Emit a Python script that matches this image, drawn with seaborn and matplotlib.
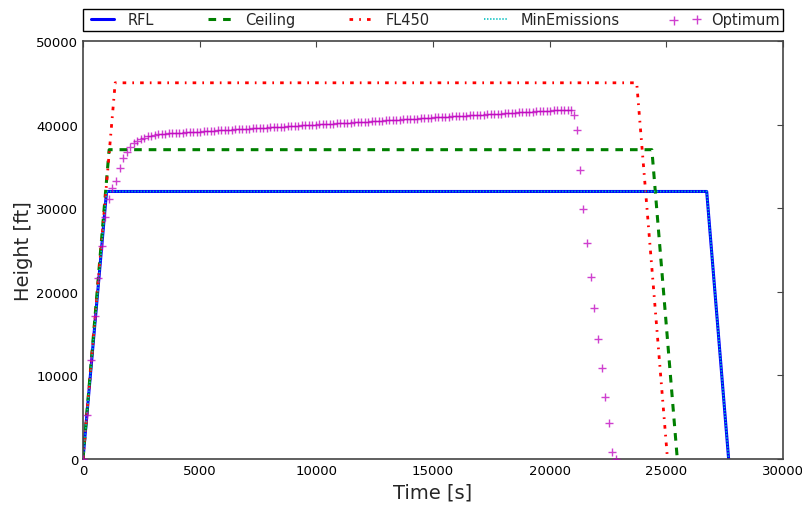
import matplotlib
matplotlib.use("Agg")
import matplotlib.pyplot as plt
import seaborn as sns
import pandas as pd

# ---------------- data ----------------
rfl_time = [0, 1010, 26730, 27670]
rfl_height = [0, 32000, 32000, 0]

ceiling_time = [0, 1120, 24380, 25470]
ceiling_height = [0, 37000, 37000, 0]

fl450_time = [0, 1380, 23730, 25050]
fl450_height = [0, 45000, 45000, 0]

minem_time = [0, 1010, 26730, 27670]
minem_height = [0, 32000, 32000, 0]

opt_time = [
    0, 180, 360, 510, 660, 800, 950, 1120, 1260, 1410, 1580, 1730, 1880, 2030,
    2180, 2330, 2480, 2630, 2780, 2930, 3080, 3230, 3380, 3530,
    3680, 3830, 3980, 4130, 4280, 4430, 4580, 4730, 4880, 5030,
    5180, 5330, 5480, 5630, 5780, 5930, 6080, 6230, 6380, 6530,
    6680, 6830, 6980, 7130, 7280, 7430, 7580, 7730, 7880, 8030,
    8180, 8330, 8480, 8630, 8780, 8930, 9080, 9230, 9380, 9530,
    9680, 9830, 9980, 10130, 10280, 10430, 10580, 10730, 10880, 11030,
    11180, 11330, 11480, 11630, 11780, 11930, 12080, 12230, 12380, 12530,
    12680, 12830, 12980, 13130, 13280, 13430, 13580, 13730, 13880, 14030,
    14180, 14330, 14480, 14630, 14780, 14930, 15080, 15230, 15380, 15530,
    15680, 15830, 15980, 16130, 16280, 16430, 16580, 16730, 16880, 17030,
    17180, 17330, 17480, 17630, 17780, 17930, 18080, 18230, 18380, 18530,
    18680, 18830, 18980, 19130, 19280, 19430, 19580, 19730, 19880, 20030,
    20180, 20330, 20480, 20630, 20780, 20900,
    21030, 21170, 21310, 21450, 21610, 21770, 21920, 22080, 22230, 22380,
    22540, 22690, 22850,
]
opt_height = [
    0, 5260, 11900, 17100, 21600, 25500, 28900, 31100, 32400, 33300, 34800,
    36000, 36700, 37300, 37750, 38050, 38300, 38450, 38580, 38680, 38760,
    38820, 38880, 38930,
    38950, 38970, 39000, 39020, 39050, 39070, 39100, 39120, 39150, 39170,
    39200, 39220, 39250, 39270, 39300, 39320, 39350, 39370, 39400, 39420,
    39450, 39470, 39500, 39520, 39550, 39570, 39600, 39620, 39650, 39670,
    39700, 39720, 39750, 39770, 39800, 39820, 39850, 39870, 39900, 39920,
    39950, 39970, 40000, 40020, 40050, 40070, 40100, 40120, 40150, 40170,
    40200, 40220, 40250, 40270, 40300, 40320, 40350, 40370, 40400, 40420,
    40450, 40470, 40500, 40520, 40550, 40570, 40600, 40620, 40650, 40670,
    40700, 40720, 40750, 40770, 40800, 40820, 40850, 40870, 40900, 40920,
    40950, 40970, 41000, 41020, 41050, 41070, 41100, 41120, 41150, 41170,
    41200, 41220, 41250, 41270, 41300, 41320, 41350, 41370, 41400, 41420,
    41450, 41470, 41500, 41520, 41550, 41570, 41600, 41620, 41650, 41670,
    41700, 41720, 41750, 41770, 41800, 41780,
    41180, 39400, 34600, 29950, 25800, 21750, 18030, 14350, 10850, 7380,
    4270, 870, 0,
]

x_ticks = [0, 5000, 10000, 15000, 20000, 25000, 30000]
y_ticks = [0, 10000, 20000, 30000, 40000, 50000]

# ---------------- style ----------------
sns.set_style("white")
plt.rcParams.update({
    "font.family": ["DejaVu Sans"],
    "xtick.direction": "in",
    "ytick.direction": "in",
    "xtick.top": True,
    "ytick.right": True,
    "xtick.major.size": 4,
    "ytick.major.size": 4,
    "xtick.color": "#444444",
    "ytick.color": "#444444",
    "xtick.labelcolor": "black",
    "ytick.labelcolor": "black",
    "lines.scale_dashes": False,
})

fig = plt.figure(figsize=(8.03, 5.06), dpi=100)
ax = fig.add_axes([0.10336, 0.09091, 0.87173, 0.82609])

df_rfl = pd.DataFrame({"t": rfl_time, "h": rfl_height})
df_ceil = pd.DataFrame({"t": ceiling_time, "h": ceiling_height})
df_fl = pd.DataFrame({"t": fl450_time, "h": fl450_height})
df_me = pd.DataFrame({"t": minem_time, "h": minem_height})
df_opt = pd.DataFrame({"t": opt_time, "h": opt_height})

sns.lineplot(data=df_rfl, x="t", y="h", ax=ax, sort=False, estimator=None,
             color="#0000ff", linewidth=2.2, label="RFL")
sns.lineplot(data=df_ceil, x="t", y="h", ax=ax, sort=False, estimator=None,
             color="#008000", linewidth=2.2,
             linestyle=(0, (5.5, 5.0)), label="Ceiling")
sns.lineplot(data=df_fl, x="t", y="h", ax=ax, sort=False, estimator=None,
             color="#ff0000", linewidth=2.0,
             linestyle=(0, (2.6, 4.4, 1.2, 4.4)), label="FL450")
sns.lineplot(data=df_me, x="t", y="h", ax=ax, sort=False, estimator=None,
             color="#00bfbf", linewidth=1.2,
             linestyle=(0, (1.0, 1.2)), label="MinEmissions")
sns.scatterplot(data=df_opt, x="t", y="h", ax=ax, color="#bf00bf",
                marker="+", s=40, linewidth=1.0, alpha=0.75,
                label="Optimum", zorder=5)

ax.set_xlim(0, 30000)
ax.set_ylim(0, 50000)
ax.set_xticks(x_ticks)
ax.set_yticks(y_ticks)
ax.tick_params(labelsize=9.5, width=0.8)
ax.set_xlabel("Time [s]", fontsize=14, labelpad=4)
ax.set_ylabel("Height [ft]", fontsize=14, labelpad=2)
for s in ax.spines.values():
    s.set_color("#444444")
    s.set_linewidth(1.2)

leg = ax.legend(loc="lower left", bbox_to_anchor=(0, 1.024, 1, 0.05),
                mode="expand", ncol=5, borderaxespad=0, fontsize=10.5,
                numpoints=2, scatterpoints=2, handlelength=2.18,
                handletextpad=0.66, borderpad=0.25, fancybox=False,
                framealpha=1, edgecolor="black")
leg.get_frame().set_linewidth(1.0)

fig.savefig("out.png", dpi=100)
